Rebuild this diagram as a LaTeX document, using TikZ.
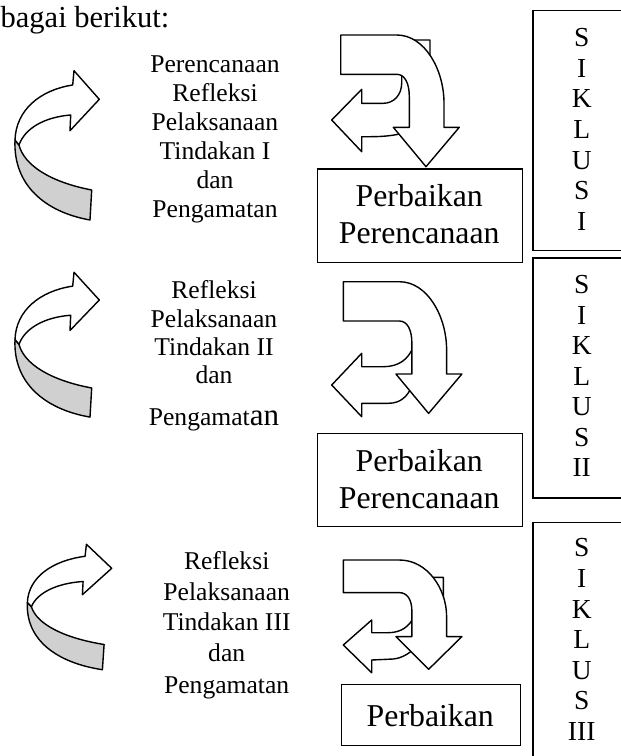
\documentclass[tikz,border=0pt]{standalone}
\usepackage{fontspec}
\setmainfont{Liberation Serif}
\definecolor{ribgray}{RGB}{208,208,208}
\tikzset{
  shp/.style={draw=black, line width=1.4pt, line join=round, fill=white},
  backshp/.style={shp, fill=ribgray},
  boxfr/.style={draw=black, line width=1.3pt, fill=white, inner sep=0pt, anchor=north west},
  lt/.style={font=\fontsize{25.6}{29}\selectfont, inner sep=0pt, anchor=base},
  bt/.style={font=\fontsize{31.8}{36}\selectfont, inner sep=0pt, anchor=base},
  st/.style={font=\fontsize{27.5}{30}\selectfont, inner sep=0pt, anchor=base},
  ribbon/.pic={
    \draw[backshp] (-84.3,40.7) .. controls (-86.3,85.7) and (-54.3,112.7) .. (-9.3,120.7)
      -- (-7.6,90.7) .. controls (-49.3,82.7) and (-75.3,65.7) .. (-80.3,45.7) -- cycle;
    \draw[shp] (-26.6,-14.3) .. controls (-59.3,-9.3) and (-83.3,10.7) .. (-84.3,40.7)
      -- (-80.3,45.7) .. controls (-74.3,28.7) and (-54.3,17.7) .. (-28.6,15.7)
      -- (-29.3,31.4) -- (0,0) -- (-25.3,-28.6) -- cycle;
  },
  downarr/.pic={
    \draw[shp] (0,0) -- (56,0) .. controls (84.3,0) and (103.3,35) .. (103.3,68)
      -- (103.3,92.3) -- (118.6,92.3) -- (85.3,131.7) -- (52.6,92.3) -- (68.6,92.3)
      -- (68.6,61.7) .. controls (68.6,48) and (64,39.3) .. (56,39.3) -- (0,39.3) -- cycle;
  }
}
\begin{document}
\begin{tikzpicture}[x=1pt,y=-1pt]
\useasboundingbox (0,0) rectangle (621,756);
\fill[white] (0,0) rectangle (621,756);

% heading
\node[anchor=base west, font=\fontsize{30.5}{30.5}\selectfont, inner sep=0pt] (head) at (0.5,27) {bagai berikut:};

% left curved ribbon arrows
\pic at (99.3,99.3) {ribbon};
\pic[yscale=0.97] at (99.3,300) {ribbon};
\pic[yscale=0.84] at (111.7,568.3) {ribbon};

% back (left-turning) arrows
\begin{scope}[shift={(340.7,35)}]
  \draw[shp] (-9,85) -- (21,54.3) -- (21,68.3) -- (42.6,68.3) .. controls (53,68.3) and (61,60) .. (61,48)
    -- (61,5) -- (89.3,5) -- (89.3,70) .. controls (89.3,95) and (60,101.7) .. (30,101.7)
    -- (21,101.7) -- (21,116.7) -- cycle;
\end{scope}
\begin{scope}[shift={(343.3,281.7)}]
  \draw[shp] (-11.6,103.3) -- (18.4,71.6) -- (18.4,85) -- (40,85) .. controls (55,85) and (65,78) .. (70,65)
    -- (85,65) -- (85,90) -- (68,106) .. controls (64,114) and (58,121.6) .. (45,121.6)
    -- (18.4,121.6) -- (18.4,135) -- cycle;
\end{scope}
\begin{scope}[shift={(343.3,560)}]
  \draw[shp] (0,85) -- (28.4,60) -- (28.4,72.7) -- (45,72.7) .. controls (58,72.7) and (66,66) .. (70,58)
    -- (70,17.3) -- (100,17.3) -- (100,60) -- (75,85) .. controls (68,92) and (60,98) .. (50,99)
    -- (28.4,100) -- (28.4,112.7) -- cycle;
\end{scope}

% front (downward) arrows
\pic at (340.7,35) {downarr};
\pic at (343.3,281.7) {downarr};
\pic[yscale=0.83] at (343.3,560) {downarr};

% Perbaikan boxes
\node[boxfr, minimum width=205pt, minimum height=93.4pt] (pb1) at (316.7,168.3) {};
\node[boxfr, minimum width=205pt, minimum height=93.3pt] (pb2) at (316.7,432.7) {};
\node[boxfr, minimum width=179.3pt, minimum height=61pt] (pb3) at (340.7,684) {};
\node[bt] (pb1a) at (419.2,206.7) {Perbaikan};
\node[bt] (pb1b) at (419.2,243.3) {Perencanaan};
\node[bt] (pb2a) at (419.2,471.7) {Perbaikan};
\node[bt] (pb2b) at (419.2,508.3) {Perencanaan};
\node[bt] (pb3a) at (430.3,726.7) {Perbaikan};

% SIKLUS boxes
\node[boxfr, minimum width=100pt, minimum height=240pt] (sk1) at (532.3,10) {};
\node[boxfr, minimum width=100pt, minimum height=240pt] (sk2) at (532.3,257.3) {};
\node[boxfr, minimum width=100pt, minimum height=250pt] (sk3) at (532.3,521.7) {};
\foreach \c [count=\i] in {S,I,K,L,U,S,I}
  \node[st] (ska\i) at (581.7,{46.7+30.6*(\i-1)}) {\c};
\foreach \c [count=\i] in {S,I,K,L,U,S,II}
  \node[st] (skb\i) at (581.7,{293.5+30.55*(\i-1)}) {\c};
\foreach \c [count=\i] in {S,I,K,L,U,S,III}
  \node[st] (skc\i) at (581.7,{556.8+30.6*(\i-1)}) {\c};

% left text blocks
\foreach \t/\yy [count=\i] in {Perencanaan/72.5, Refleksi/101.4, Pelaksanaan/130.3, Tindakan I/159.2, dan/188.1, Pengamatan/217}
  \node[lt] (ta\i) at (215,\yy) {\t};
\foreach \t/\yy [count=\i] in {Refleksi/298.5, Pelaksanaan/327, Tindakan II/355.5, dan/383.5}
  \node[lt] (tb\i) at (214,\yy) {\t};
\node[lt] (tb5) at (214,425) {Pengamat{\fontsize{31}{31}\selectfont an}};
\foreach \t/\yy [count=\i] in {Refleksi/569, Pelaksanaan/600, Tindakan III/630, dan/661, Pengamatan/693}
  \node[lt] (tc\i) at (226.7,\yy) {\t};
\end{tikzpicture}
\end{document}
